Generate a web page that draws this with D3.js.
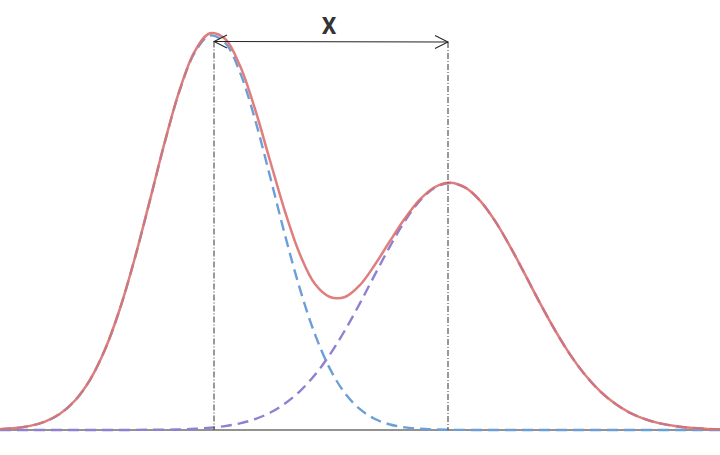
<!DOCTYPE html>
<html>
<head>
<meta charset="utf-8">
<script src="https://cdn.jsdelivr.net/npm/d3@7"></script>
<style>
  html, body { margin: 0; padding: 0; background: #fff; }
  svg { display: block; }
</style>
</head>
<body>
<svg id="chart" width="720" height="455"></svg>
<script>
// ---- data (x positions in abstract units, heights) ----
const xs = [0,15,30,45,60,75,90,105,120,135,150,165,180,195,210,225,240,255,270,285,300,315,330,345,360,375,390,405,420,435,450,465,480,495,510,525,540,555,570,585,600,615,630,645,660,675,690,705,720];
const blueSeries = [0.8,1.9,4.1,8.4,16.2,29.5,50.2,80.5,121.5,172.4,229.9,288.5,340.5,377.9,394.5,387.3,357.6,310.6,253.7,194.9,140.8,95.6,61.1,36.7,20.8,11.0,5.5,2.6,1.2,0.5,0.2,0.1,0,0,0,0,0,0,0,0,0,0,0,0,0,0,0,0,0];
const purpleSeries = [0,0,0,0,0,0,0,0,0,0.1,0.2,0.3,0.6,1.2,2.2,3.9,6.6,10.9,17.2,26.4,38.9,55.2,75.6,99.8,126.9,155.6,183.7,209.1,229.4,242.5,247.0,242.5,229.4,209.1,183.7,155.6,126.9,99.8,75.6,55.2,38.9,26.4,17.2,10.9,6.6,3.9,2.2,1.2,0.6];
const totalSeries = [0.8,1.9,4.1,8.4,16.2,29.5,50.2,80.5,121.5,172.5,230.1,288.8,341.1,379.1,396.7,391.2,364.2,321.0,269.5,218.5,175.5,146.0,133.0,133.0,145.0,165.5,189.0,211.7,230.6,243.0,247.2,242.6,229.4,209.1,183.7,155.6,126.9,99.8,75.6,55.2,38.9,26.4,17.2,10.9,6.6,3.9,2.2,1.2,0.6];
const peakX = [214, 448];
const arrowLevel = [388.5, 388.0];
const annotationLabel = "X";

// ---- layout ----
const x = d3.scaleLinear().domain([0, 720]).range([0, 720]);
const y = d3.scaleLinear().domain([0, 400]).range([430, 30]);

const svg = d3.select("#chart");

const defs = svg.append("defs");
["start", "end"].forEach(kind => {
  defs.append("marker")
    .attr("id", "arrow-" + kind)
    .attr("viewBox", "-14 -8 16 16")
    .attr("refX", 0).attr("refY", 0)
    .attr("markerWidth", 16).attr("markerHeight", 16)
    .attr("markerUnits", "userSpaceOnUse")
    .attr("orient", kind === "start" ? "auto-start-reverse" : "auto")
    .append("path")
    .attr("d", "M-13,-6.5 L0,0 L-13,6.5")
    .attr("fill", "none")
    .attr("stroke", "#222")
    .attr("stroke-width", 1);
});

// baseline
svg.append("line")
  .attr("x1", x(0)).attr("x2", x(720))
  .attr("y1", y(0)).attr("y2", y(0))
  .attr("stroke", "#6e6e6e").attr("stroke-width", 1.6);

const line = d3.line().x(d => x(d[0])).y(d => y(d[1])).curve(d3.curveCatmullRom.alpha(0.5));

const seriesDefs = [
  { vals: purpleSeries, color: "#8f80d2", dash: "11,6", width: 2.4, opacity: 1 },
  { vals: blueSeries, color: "#6c9fd8", dash: "11,6", width: 2.4, opacity: 1 },
  { vals: totalSeries, color: "#dc706f", dash: null, width: 2.5, opacity: 0.9 }
];
seriesDefs.forEach(s => {
  svg.append("path")
    .datum(xs.map((v, i) => [v, s.vals[i]]))
    .attr("d", line)
    .attr("fill", "none")
    .attr("stroke", s.color)
    .attr("stroke-width", s.width)
    .attr("stroke-opacity", s.opacity)
    .attr("stroke-dasharray", s.dash)
    .attr("stroke-linecap", "butt");
});

// vertical dash-dot guides
peakX.forEach((px, i) => {
  svg.append("line")
    .attr("x1", x(px)).attr("x2", x(px))
    .attr("y1", y(arrowLevel[i])).attr("y2", y(0))
    .attr("stroke", "#333").attr("stroke-width", 1)
    .attr("stroke-dasharray", "6,2,1,2");
});

// double arrow
svg.append("line")
  .attr("x1", x(peakX[0])).attr("y1", y(arrowLevel[0]))
  .attr("x2", x(peakX[1])).attr("y2", y(arrowLevel[1]))
  .attr("stroke", "#222").attr("stroke-width", 1)
  .attr("marker-start", "url(#arrow-start)")
  .attr("marker-end", "url(#arrow-end)");

svg.append("text")
  .attr("x", (x(peakX[0]) + x(peakX[1])) / 2 - 2)
  .attr("y", 34)
  .attr("text-anchor", "middle")
  .attr("font-family", "Roboto, 'Liberation Sans', sans-serif")
  .attr("font-weight", 700)
  .attr("font-size", 23)
  .attr("fill", "#333")
  .text(annotationLabel);
</script>
</body>
</html>
